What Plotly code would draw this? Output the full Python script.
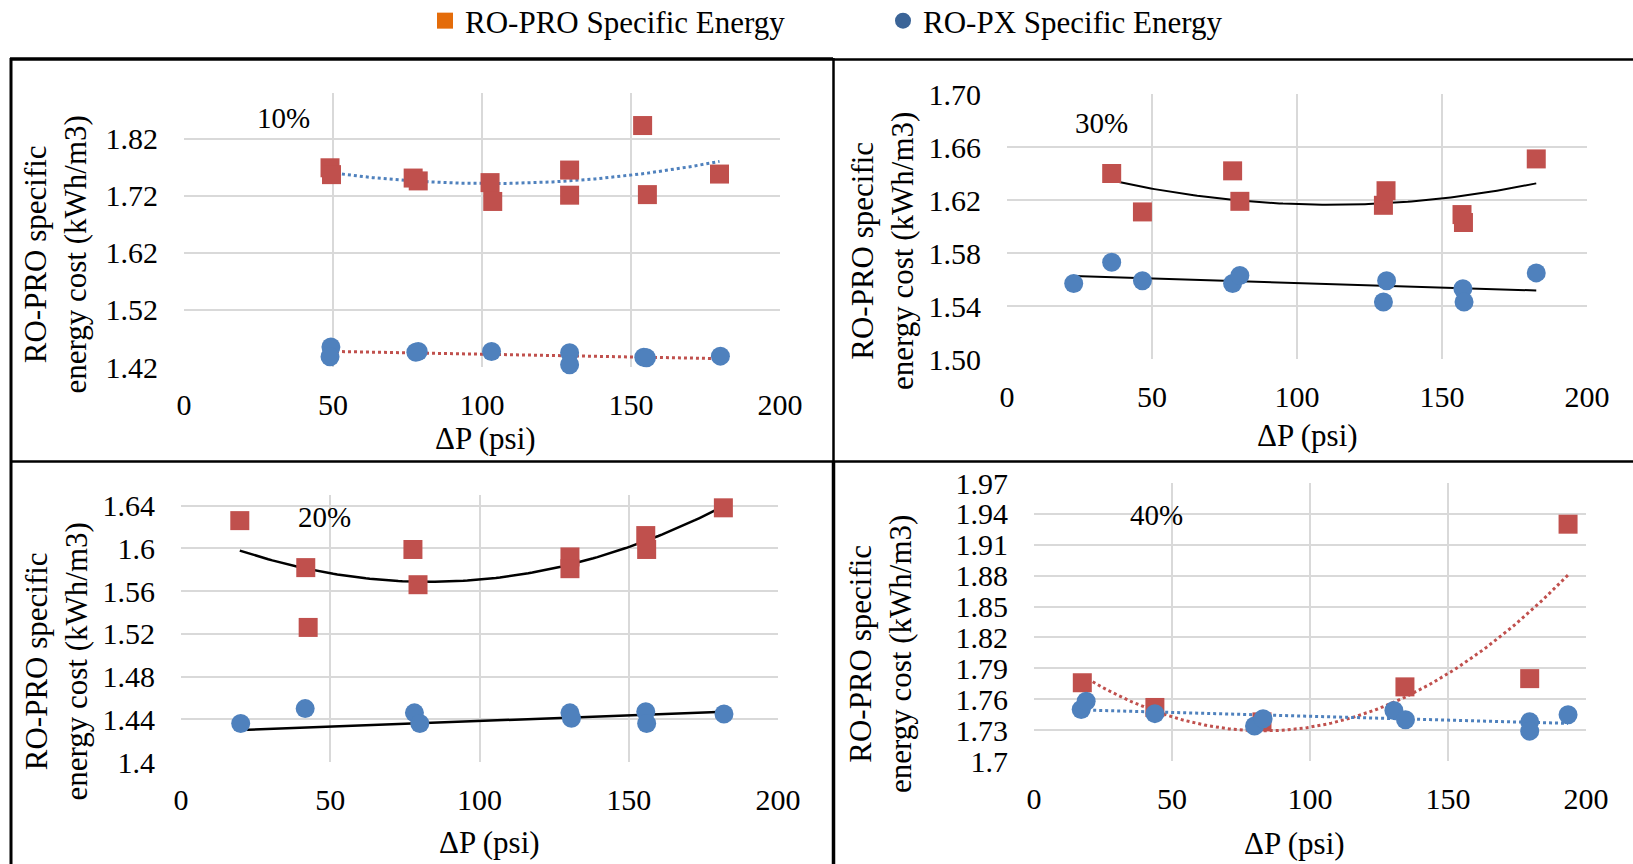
import numpy as np
import plotly.graph_objects as go

W, H = 1633, 864
FONT = "Liberation Serif"
RED = "#C0504D"
BLUE = "#4F81BD"

# ---------------- data ----------------
# 10 %
p10_pro_x = [49.0, 49.5, 76.9, 78.6, 102.7, 103.6, 129.4, 129.4, 153.9, 155.5, 179.7]
p10_pro_y = [1.769, 1.757, 1.751, 1.746, 1.743, 1.710, 1.765, 1.721, 1.843, 1.722, 1.758]
p10_px_x = [49.3, 49.0, 77.8, 78.6, 103.2, 129.4, 129.4, 154.3, 155.2, 180.0]
p10_px_y = [1.455, 1.438, 1.446, 1.447, 1.447, 1.445, 1.424, 1.437, 1.436, 1.439]
# 30 %
p30_pro_x = [36.1, 46.7, 77.8, 80.3, 129.8, 130.7, 156.9, 157.4, 182.5]
p30_pro_y = [1.640, 1.611, 1.642, 1.619, 1.616, 1.627, 1.609, 1.603, 1.651]
p30_px_x = [23.0, 36.1, 46.7, 77.8, 80.3, 129.8, 130.9, 157.2, 157.6, 182.5]
p30_px_y = [1.557, 1.573, 1.559, 1.557, 1.563, 1.543, 1.559, 1.553, 1.543, 1.565]
# 20 %
p20_pro_x = [19.7, 41.8, 42.6, 77.7, 79.4, 130.3, 130.3, 155.7, 156.0, 181.7]
p20_pro_y = [1.626, 1.582, 1.526, 1.599, 1.566, 1.592, 1.581, 1.612, 1.599, 1.638]
p20_px_x = [20.0, 41.6, 78.2, 80.0, 130.3, 130.8, 155.7, 156.0, 181.9]
p20_px_y = [1.436, 1.450, 1.446, 1.436, 1.446, 1.441, 1.447, 1.436, 1.445]
# linear trendline of the 20 % RO-PX series, end values
p20_px_trend_x = [20.0, 181.9]
p20_px_trend_y = [1.430, 1.447]
# 40 %
p40_pro_x = [17.5, 43.8, 82.6, 134.4, 179.6, 193.5]
p40_pro_y = [1.776, 1.752, 1.738, 1.772, 1.780, 1.930]
p40_px_x = [17.1, 18.9, 43.8, 79.9, 83.0, 130.4, 134.6, 179.6, 179.6, 193.5]
p40_px_y = [1.750, 1.758, 1.746, 1.734, 1.741, 1.749, 1.740, 1.738, 1.729, 1.745]

x_ticks = [0, 50, 100, 150, 200]
y10_ticks = [1.42, 1.52, 1.62, 1.72, 1.82]
y10_text = ["1.42", "1.52", "1.62", "1.72", "1.82"]
y30_ticks = [1.50, 1.54, 1.58, 1.62, 1.66, 1.70]
y30_text = ["1.50", "1.54", "1.58", "1.62", "1.66", "1.70"]
y20_ticks = [1.40, 1.44, 1.48, 1.52, 1.56, 1.60, 1.64]
y20_text = ["1.4", "1.44", "1.48", "1.52", "1.56", "1.6", "1.64"]
y40_ticks = [1.70, 1.73, 1.76, 1.79, 1.82, 1.85, 1.88, 1.91, 1.94, 1.97]
y40_text = ["1.7", "1.73", "1.76", "1.79", "1.82", "1.85", "1.88", "1.91", "1.94", "1.97"]

# ---------------- layout geometry (pixels) ----------------
panels = [
    dict(label="10%", pro=(p10_pro_x, p10_pro_y), px=(p10_px_x, p10_px_y), px_trend=None,
         xpx=(184, 780), ypx=(93, 367), yr=[1.42, 1.90], yt=(y10_ticks, y10_text),
         pro_line=dict(color=BLUE, dash="dot", width=3), px_line=dict(color=RED, dash="dot", width=3),
         lab=(283, 118), xt=(485, 438), ytl=(55.5, 255)),
    dict(label="30%", pro=(p30_pro_x, p30_pro_y), px=(p30_px_x, p30_px_y), px_trend=None,
         xpx=(1007, 1587), ypx=(94, 359), yr=[1.50, 1.70], yt=(y30_ticks, y30_text),
         pro_line=dict(color="black", width=2), px_line=dict(color="black", width=2),
         lab=(1101, 123), xt=(1307, 435), ytl=(882, 251)),
    dict(label="20%", pro=(p20_pro_x, p20_pro_y), px=(p20_px_x, p20_px_y),
         px_trend=(p20_px_trend_x, p20_px_trend_y),
         xpx=(181, 778), ypx=(495, 762), yr=[1.40, 1.65], yt=(y20_ticks, y20_text),
         pro_line=dict(color="black", width=2.5), px_line=dict(color="black", width=2.5),
         lab=(324, 517), xt=(489, 842), ytl=(55.5, 662)),
    dict(label="40%", pro=(p40_pro_x, p40_pro_y), px=(p40_px_x, p40_px_y), px_trend=None,
         xpx=(1034, 1586), ypx=(483, 761), yr=[1.70, 1.97], yt=(y40_ticks, y40_text),
         pro_line=dict(color=RED, dash="dot", width=3), px_line=dict(color=BLUE, dash="dot", width=3),
         lab=(1156, 515), xt=(1294, 843), ytl=(880, 654)),
]

fig = go.Figure()
annotations = []
layout = {}

def fx(p):
    return p / W

def fy(p):
    return 1 - p / H

for i, pn in enumerate(panels, start=1):
    xa = "x" if i == 1 else f"x{i}"
    ya = "y" if i == 1 else f"y{i}"
    # trendlines: 2nd-order polynomial for RO-PRO, linear for RO-PX
    for key, deg, ln in (("pro", 2, pn["pro_line"]), ("px", 1, pn["px_line"])):
        if key == "px" and pn["px_trend"] is not None:
            tx, ty = pn["px_trend"]
            fig.add_trace(go.Scatter(x=tx, y=ty, mode="lines", line=ln,
                                     xaxis=xa, yaxis=ya, showlegend=False, hoverinfo="skip"))
            continue
        xs = np.array(pn[key][0]); ys = np.array(pn[key][1])
        c = np.polyfit(xs, ys, deg)
        xx = np.linspace(xs.min(), xs.max(), 120)
        fig.add_trace(go.Scatter(x=xx, y=np.polyval(c, xx), mode="lines", line=ln,
                                 xaxis=xa, yaxis=ya, showlegend=False, hoverinfo="skip"))
    fig.add_trace(go.Scatter(x=pn["pro"][0], y=pn["pro"][1], mode="markers",
                             marker=dict(symbol="square", size=19, color=RED),
                             cliponaxis=False, xaxis=xa, yaxis=ya, showlegend=False))
    fig.add_trace(go.Scatter(x=pn["px"][0], y=pn["px"][1], mode="markers",
                             marker=dict(symbol="circle", size=19, color=BLUE),
                             cliponaxis=False, xaxis=xa, yaxis=ya, showlegend=False))

    axis_common = dict(showgrid=True, gridcolor="#D9D9D9", gridwidth=2, zeroline=False,
                       ticks="", tickfont=dict(family=FONT, size=30, color="black"),
                       showline=False, automargin=False)
    layout["xaxis" if i == 1 else f"xaxis{i}"] = dict(
        axis_common, domain=[fx(pn["xpx"][0]), fx(pn["xpx"][1])], range=[0, 200],
        tickvals=x_ticks, anchor=ya, ticklabelstandoff=17)
    layout["yaxis" if i == 1 else f"yaxis{i}"] = dict(
        axis_common, domain=[fy(pn["ypx"][1]), fy(pn["ypx"][0])], range=pn["yr"],
        tickvals=pn["yt"][0], ticktext=pn["yt"][1], anchor=xa, ticklabelstandoff=25)

    annotations.append(dict(text=pn["label"], x=fx(pn["lab"][0]), y=fy(pn["lab"][1]),
                            xref="paper", yref="paper", showarrow=False,
                            xanchor="center", yanchor="middle",
                            font=dict(family=FONT, size=29, color="black")))
    annotations.append(dict(text="ΔP (psi)", x=fx(pn["xt"][0]), y=fy(pn["xt"][1]),
                            xref="paper", yref="paper", showarrow=False,
                            xanchor="center", yanchor="middle",
                            font=dict(family=FONT, size=31, color="black")))
    annotations.append(dict(text="RO-PRO specific<br>energy cost (kWh/m3)", textangle=-90,
                            x=fx(pn["ytl"][0]), y=fy(pn["ytl"][1]),
                            xref="paper", yref="paper", showarrow=False,
                            xanchor="center", yanchor="middle",
                            font=dict(family=FONT, size=31, color="black")))

# legend-only traces
fig.add_trace(go.Scatter(x=[None], y=[None], mode="markers", name="RO-PRO Specific Energy",
                         marker=dict(symbol="square", size=18, color="#E46C0A")))
fig.add_trace(go.Scatter(x=[None], y=[None], mode="markers", name="RO-PX Specific Energy",
                         marker=dict(symbol="circle", size=18, color="#3B6497")))

def hline(y, x0, x1, w):
    return dict(type="line", xref="paper", yref="paper", x0=fx(x0), x1=fx(x1),
                y0=fy(y), y1=fy(y), line=dict(color="black", width=w))

def vline(x, y0, y1, w):
    return dict(type="line", xref="paper", yref="paper", x0=fx(x), x1=fx(x),
                y0=fy(y0), y1=fy(y1), line=dict(color="black", width=w))

shapes = [
    hline(59, 10, 833, 3.5), hline(59.5, 833, W, 2.5),
    vline(11, 58, H, 3), vline(833.5, 58, 461, 2.5), vline(833.5, 461, H, 3.5),
    hline(461.5, 10, W, 2.5),
]

fig.update_layout(
    width=W, height=H, autosize=False,
    margin=dict(l=0, r=0, t=0, b=0, pad=0, autoexpand=False),
    paper_bgcolor="white", plot_bgcolor="white",
    font=dict(family=FONT, color="black"),
    showlegend=True,
    legend=dict(orientation="h", x=fx(425), y=fy(21), xanchor="left", yanchor="middle",
                font=dict(family=FONT, size=31, color="black"),
                entrywidth=413, entrywidthmode="pixels", bgcolor="rgba(0,0,0,0)"),
    annotations=annotations, shapes=shapes,
    **layout,
)

fig.write_html("out.html")
